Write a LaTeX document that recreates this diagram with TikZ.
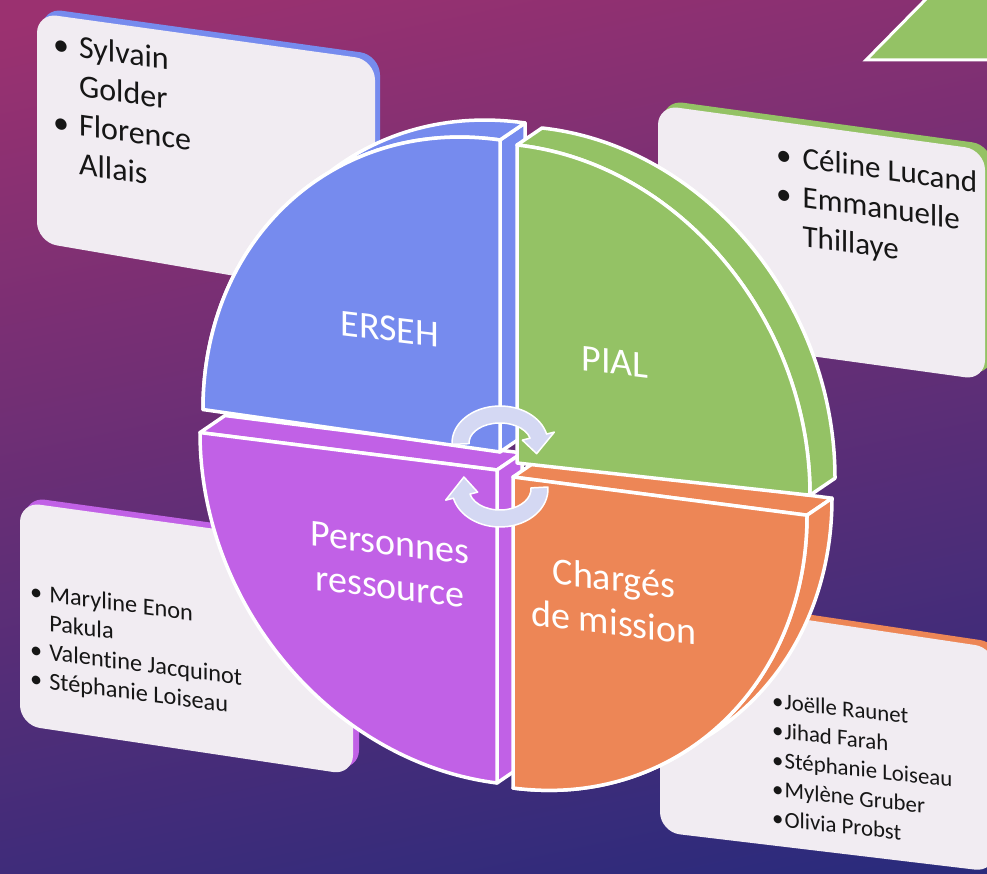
\documentclass[tikz,border=0pt]{standalone}
\usepackage{fontspec}
\setmainfont{Carlito}[Ligatures=NoCommon]
\usetikzlibrary{calc}
\definecolor{cblue}{HTML}{768BEE}
\definecolor{cgreen}{HTML}{94C265}
\definecolor{cpurple}{HTML}{C161E6}
\definecolor{corange}{HTML}{ED8656}
\definecolor{boxfill}{HTML}{F1ECF2}
\definecolor{arrowfill}{HTML}{D4D8F3}
\definecolor{bgtop}{HTML}{9B3170}
\definecolor{bgmid}{HTML}{5E2A7B}
\definecolor{bgbot}{HTML}{2B2B7C}
\definecolor{txt}{HTML}{161616}
\begin{document}
\begin{tikzpicture}[x=1pt,y=1pt,
  face/.style={draw=white, line width=3.5pt, line join=round},
  callbox/.style={fill=boxfill, rounded corners=20pt},
  callshadow/.style={rounded corners=20pt},
  calltext/.style={text=txt, inner sep=0pt, anchor=base west, transform shape},
  pielabel/.style={text=white, inner sep=0pt, align=center, transform shape, font=\fontsize{38}{44}\selectfont},
  circarrow/.style={fill=arrowfill, draw=white, line width=1.5pt, line join=round}]
\useasboundingbox (0,0) rectangle (987,873);
\clip (0,0) rectangle (987,873);
\shade[top color=bgtop, middle color=bgmid, bottom color=bgbot, shading angle=12] (-60,-60) rectangle (1047,933);

% top-right green corner shape
\filldraw[fill=cgreen, draw=white, line width=3pt] (866,813) -- (930,878) -- (995,878) -- (995,813) -- cycle;

% callout boxes
\fill[callshadow, fill=cblue] (42,865) -- (380,818) -- (380,578) -- (42,636) -- cycle;
\fill[callbox] (37,860) -- (375,813) -- (375,573) -- (37,631) -- cycle;

\fill[callshadow, fill=cgreen] (663,773) -- (992,728) -- (992,498) -- (663,543) -- cycle;
\fill[callbox] (658,768) -- (985,723) -- (985,493) -- (658,538) -- cycle;

\fill[callshadow, fill=cpurple] (25,376) -- (359,330) -- (359,103) -- (25,153) -- cycle;
\fill[callbox] (20,371) -- (353,325) -- (353,98) -- (20,148) -- cycle;

\fill[callshadow, fill=corange] (665,280) -- (1000,230) -- (1000,6) -- (665,46) -- cycle;
\fill[callbox] (660,275) -- (995,225) -- (995,1) -- (660,41) -- cycle;

% pie: purple (bottom-left)
\begin{scope}[cm={1,-0.126,0,1,(497pt,403pt)}]
  \filldraw[face, fill=cpurple] (0,0) -- (-297,0) -- (-272,20.2) -- (25,20.2) -- cycle;
  \filldraw[face, fill=cpurple] (0,0) -- (0,-313) -- (25,-292.8) -- (25,20.2) -- cycle;
  \filldraw[face, fill=cpurple] (0,0) -- (-297,0) arc[start angle=180, end angle=270, x radius=297, y radius=313] -- cycle;
\end{scope}
% pie: orange (bottom-right)
\begin{scope}[cm={1,-0.13,0,1,(513pt,396pt)}]
  \filldraw[face, fill=corange] (0,0) -- (294,0) -- (319,20.25) -- (25,20.25) -- cycle;
  \filldraw[face, fill=corange] (294,0) arc[start angle=0, end angle=-90, x radius=294, y radius=311] -- (25,-290.75) arc[start angle=-90, end angle=0, x radius=294, y radius=311] -- cycle;
  \filldraw[face, fill=corange] (0,0) -- (294,0) arc[start angle=0, end angle=-90, x radius=294, y radius=311] -- cycle;
\end{scope}
% pie: blue (top-left)
\begin{scope}[cm={1,-0.143,0,1,(500pt,421pt)}]
  \filldraw[face, fill=cblue] (0,0) -- (0,312) -- (25,332.6) -- (25,20.6) -- cycle;
  \filldraw[face, fill=cblue] (0,312) arc[start angle=90, end angle=180, x radius=297, y radius=312] -- (-272,20.6) arc[start angle=180, end angle=90, x radius=297, y radius=312] -- cycle;
  \filldraw[face, fill=cblue] (0,0) -- (0,312) arc[start angle=90, end angle=180, x radius=297, y radius=312] -- cycle;
\end{scope}
% pie: green (top-right)
\begin{scope}[cm={1,-0.11,0,1,(517pt,410pt)}]
  \filldraw[face, fill=cgreen] (293,0) arc[start angle=0, end angle=90, x radius=293, y radius=318] -- (25,337.75) arc[start angle=90, end angle=0, x radius=293, y radius=318] -- cycle;
  \filldraw[face, fill=cgreen] (0,0) -- (293,0) arc[start angle=0, end angle=90, x radius=293, y radius=318] -- cycle;
\end{scope}

% circular arrows
\coordinate (o1) at (500,430);
\coordinate (o2) at (500,384);
\draw[circarrow] ($(o1)+(182:48 and 37)$) arc[start angle=182, end angle=14, x radius=48, y radius=37]
  -- ($(o1)+(14:56 and 45)$) -- ($(o1)+(-22:39.5 and 28.5)$) -- ($(o1)+(14:23 and 12)$)
  -- ($(o1)+(14:31 and 20)$) arc[start angle=14, end angle=182, x radius=31, y radius=20] -- cycle;
\draw[circarrow] ($(o2)+(3:48 and 38)$) arc[start angle=3, end angle=-166, x radius=48, y radius=38]
  -- ($(o2)+(-166:56 and 46)$) -- ($(o2)+(156:39.5 and 29.5)$) -- ($(o2)+(-166:23 and 13)$)
  -- ($(o2)+(-166:31 and 21)$) arc[start angle=-166, end angle=3, x radius=31, y radius=21] -- cycle;

% pie labels (sheared like the pie)
\begin{scope}[cm={1,-0.12,0,1,(390pt,544pt)}]
  \node[pielabel] (erseh) at (0,0) {ERSEH};
\end{scope}
\begin{scope}[cm={1,-0.12,0,1,(615pt,511pt)}]
  \node[pielabel] (pial) at (0,0) {PIAL};
\end{scope}
\begin{scope}[cm={1,-0.12,0,1,(390pt,308pt)}]
  \node[pielabel] (pers) at (0,0) {Personnes\\ressource};
\end{scope}
\begin{scope}[cm={1,-0.12,0,1,(614pt,273pt)}]
  \node[pielabel] (charg) at (0,0) {Chargés\\de mission};
\end{scope}

% callout texts (sheared)
\begin{scope}[cm={1,-0.138,0,1,(53pt,819pt)}]
  \node[calltext, font=\fontsize{32}{39}\selectfont] (tltext) at (0,0)
  {\begin{tabular}[t]{@{}l@{\hspace{10pt}}l@{}}•&Sylvain\\&Golder\\•&Florence\\&Allais\end{tabular}};
\end{scope}
\begin{scope}[cm={1,-0.14,0,1,(776pt,708.5pt)}]
  \node[calltext, font=\fontsize{31}{39}\selectfont] (trtext) at (0,0)
  {\begin{tabular}[t]{@{}l@{\hspace{11pt}}l@{}}•&Céline Lucand\\•&Emmanuelle\\&Thillaye\end{tabular}};
\end{scope}
\begin{scope}[cm={1,-0.13,0,1,(30pt,273.5pt)}]
  \node[calltext, font=\fontsize{24.3}{29}\selectfont] (bltext) at (0,0)
  {\begin{tabular}[t]{@{}l@{\hspace{7pt}}l@{}}•&Maryline Enon\\&Pakula\\•&Valentine Jacquinot\\•&Stéphanie Loiseau\end{tabular}};
\end{scope}
\begin{scope}[cm={1,-0.11,0,1,(772pt,164.5pt)}]
  \node[calltext, font=\fontsize{22.8}{29.3}\selectfont] (brtext) at (0,0)
  {\begin{tabular}[t]{@{}l@{\hspace{1pt}}l@{}}•&Joëlle Raunet\\•&Jihad Farah\\•&Stéphanie Loiseau\\•&Mylène Gruber\\•&Olivia Probst\end{tabular}};
\end{scope}
\end{tikzpicture}
\end{document}
